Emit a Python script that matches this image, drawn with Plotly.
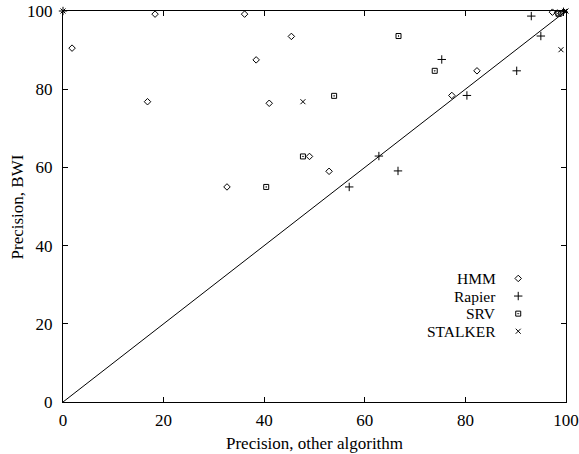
import plotly.graph_objects as go

# Data (x = precision of other algorithm, y = precision of BWI)
hmm_x = [1.8, 18.3, 36.1, 45.4, 38.4, 41.0, 16.8, 49.0, 52.9, 32.6, 82.3, 77.3, 97.3, 98.3, 99.0]
hmm_y = [90.5, 99.2, 99.2, 93.5, 87.5, 76.4, 76.8, 62.8, 59.0, 55.0, 84.7, 78.4, 99.7, 99.5, 99.4]

rapier_x = [0.0, 56.9, 62.8, 66.6, 75.3, 80.3, 90.2, 93.1, 95.0, 99.5]
rapier_y = [100.0, 55.0, 62.9, 59.1, 87.6, 78.4, 84.7, 98.7, 93.6, 99.8]

srv_x = [47.7, 53.9, 40.4, 66.7, 73.9, 98.5]
srv_y = [62.8, 78.3, 55.0, 93.6, 84.7, 99.3]

stalker_x = [0.0, 47.7, 99.0, 99.7, 100.0]
stalker_y = [100.0, 76.8, 90.1, 99.9, 100.0]

diag_x = [0, 100]
diag_y = [0, 100]

series_names = ["HMM", "Rapier", "SRV", "STALKER"]
legend_y = [0.316, 0.271, 0.226, 0.181]

FONT = "Liberation Serif, Times New Roman, serif"
FS = 17
LFS = 15.5
symbols = ["diamond-open", "cross-thin-open", "square-open-dot", "x-thin-open"]
sizes = [5, 6, 5, 5]

fig = go.Figure()

fig.add_trace(go.Scatter(x=diag_x, y=diag_y, mode="lines",
                         line=dict(color="black", width=1), showlegend=False,
                         hoverinfo="skip", cliponaxis=False))

data = [(hmm_x, hmm_y), (rapier_x, rapier_y), (srv_x, srv_y), (stalker_x, stalker_y)]
for (xs, ys), name, sym, sz in zip(data, series_names, symbols, sizes):
    fig.add_trace(go.Scatter(x=xs, y=ys, mode="markers", name=name, cliponaxis=False,
                             marker=dict(symbol=sym, size=sz, color="black",
                                         line=dict(color="black", width=1)),
                             showlegend=False))

# custom legend (text right-aligned, symbol to the right), in an overlay axis
for name, sym, sz, ly in zip(series_names, symbols, sizes, legend_y):
    fig.add_trace(go.Scatter(x=[0.905], y=[ly], mode="markers", xaxis="x2", yaxis="y2",
                             marker=dict(symbol=sym, size=sz, color="black",
                                         line=dict(color="black", width=1)),
                             showlegend=False, hoverinfo="skip"))
    fig.add_annotation(x=0.863, y=ly, xref="x2", yref="y2", text=name, showarrow=False,
                       xanchor="right", yanchor="middle", borderpad=0,
                       font=dict(family=FONT, size=LFS, color="black"))

# axis titles as annotations for exact placement
fig.add_annotation(x=0.5, y=-0.106, xref="paper", yref="paper",
                   text="Precision, other algorithm", showarrow=False,
                   xanchor="center", yanchor="middle", borderpad=0,
                   font=dict(family=FONT, size=FS, color="black"))
fig.add_annotation(x=-0.0895, y=0.5, xref="paper", yref="paper",
                   text="Precision, BWI", showarrow=False, textangle=-90,
                   xanchor="center", yanchor="middle", borderpad=0,
                   font=dict(family=FONT, size=FS, color="black"))

axis_common = dict(
    showgrid=False, zeroline=False, showline=True, linecolor="black", linewidth=1,
    mirror="ticks", ticks="inside", ticklen=5, tickcolor="black", tickwidth=1,
    tickfont=dict(family=FONT, size=FS, color="black"), automargin=False,
    ticklabeloverflow="allow", range=[0, 100], dtick=20, tick0=0,
)

fig.update_layout(
    width=579, height=454,
    margin=dict(l=63, r=13, t=11, b=52),
    paper_bgcolor="white", plot_bgcolor="white",
    showlegend=False,
    font=dict(family=FONT, size=FS, color="black"),
    xaxis=dict(ticklabelstandoff=3, **axis_common),
    yaxis=dict(ticklabelstandoff=6, **axis_common),
    xaxis2=dict(range=[0, 1], overlaying="x", visible=False),
    yaxis2=dict(range=[0, 1], overlaying="y", visible=False),
)

fig.write_html("out.html")
